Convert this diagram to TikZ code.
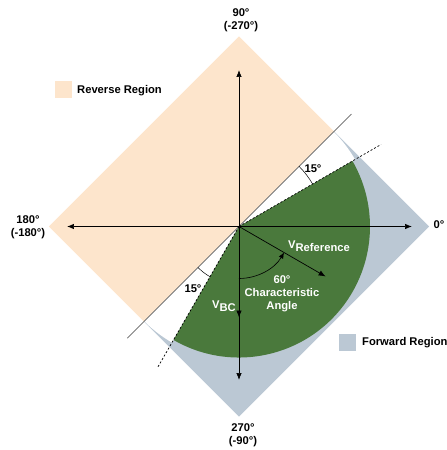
\documentclass[tikz,border=0pt]{standalone}
\usepackage{fontspec}
\setmainfont{Liberation Sans}
\usetikzlibrary{arrows.meta}
\definecolor{rev}{RGB}{253,229,204}
\definecolor{fwd}{RGB}{187,200,212}
\definecolor{grn}{RGB}{74,121,60}
\definecolor{lin}{RGB}{60,60,60}
\begin{document}
\begin{tikzpicture}[x=1pt,y=1pt,
  font=\fontsize{11.2}{13}\selectfont\bfseries,
  lbl/.style={inner sep=0pt, align=center},
  wlbl/.style={inner sep=0pt, align=center, text=white},
  axis/.style={line width=0.7pt, -{Latex[length=7pt,width=5.5pt]}},
  vec/.style={line width=0.7pt, -{Latex[length=7pt,width=5.5pt]}},
  thinarc/.style={line width=0.5pt},
  legbox/.style={minimum width=17pt, minimum height=17pt, inner sep=0pt}]
\useasboundingbox (-239,-223.5) rectangle (208,226.5);
% regions
\fill[rev] (0,190) -- (-190,0) -- (-95,-95) -- (95,95) -- cycle;
\fill[fwd] (95,95) -- (190,0) -- (0,-190) -- (-95,-95) -- cycle;
\fill[white] (0,0) -- (30:134) arc[start angle=30,end angle=45,radius=134] -- cycle;
\fill[white] (0,0) -- (225:134) arc[start angle=225,end angle=240,radius=134] -- cycle;
\fill[grn] (0,0) -- (-120:131) arc[start angle=-120,end angle=30,radius=131] -- cycle;
% named points
\coordinate (O) at (0,0);
\coordinate (s1) at (225:158);
\coordinate (s2) at (45:159);
\coordinate (d1) at (240:162);
\coordinate (d2) at (30:164);
\coordinate (up) at (0,156.5);
\coordinate (dn) at (0,-153.5);
\coordinate (lf) at (-172,0);
\coordinate (rt) at (173,0);
\coordinate (vbc) at (0,-91);
\coordinate (vref) at (-30:100);
% boundary lines
\draw[lin, line width=0.7pt] (s1) -- (s2);
\draw[black, line width=0.7pt, dash pattern=on 2pt off 2pt] (O) -- (d1);
\draw[black, line width=0.7pt, dash pattern=on 2pt off 2pt] (O) -- (d2);
% axes
\draw[axis] (O) -- (up);
\draw[axis] (O) -- (dn);
\draw[axis] (O) -- (lf);
\draw[axis] (O) -- (rt);
% vectors
\draw[vec] (O) -- (vbc);
\draw[vec] (O) -- (vref);
% angle arcs
\draw[thinarc] (30:85) arc[start angle=30,end angle=45,radius=85];
\draw[thinarc] (225:58) arc[start angle=225,end angle=240,radius=58];
\draw[line width=0.6pt, -{Latex[length=6pt,width=5pt]}] (-90:52) arc[start angle=-90,end angle=-30,radius=52];
% labels
\node[lbl] (a90) at (2,206.5) {90°\\(-270°)};
\node[lbl] (a270) at (4,-209) {270°\\(-90°)};
\node[lbl] (a180) at (-211,-0.5) {180°\\(-180°)};
\node[lbl] (a0) at (200,1.5) {0°};
\node[lbl] (f1) at (74,57.5) {15°};
\node[lbl] (f2) at (-46,-62.5) {15°};
\node[wlbl] (tref) at (80,-20.2) {V\raisebox{-3pt}{Reference}};
\node[wlbl] (tbc) at (-15,-79.5) {V\raisebox{-3pt}{BC}};
\node[wlbl] (tang) at (43,-67.5) {60°\\Characteristic\\Angle};
% legend
\node[legbox, fill=rev] (revbox) at (-175.5,137) {};
\node[lbl, anchor=west] (revtxt) at (-162,136) {Reverse Region};
\node[legbox, fill=fwd] (fwdbox) at (108,-116) {};
\node[lbl, anchor=west] (fwdtxt) at (123,-116.5) {Forward Region};
\end{tikzpicture}
\end{document}
